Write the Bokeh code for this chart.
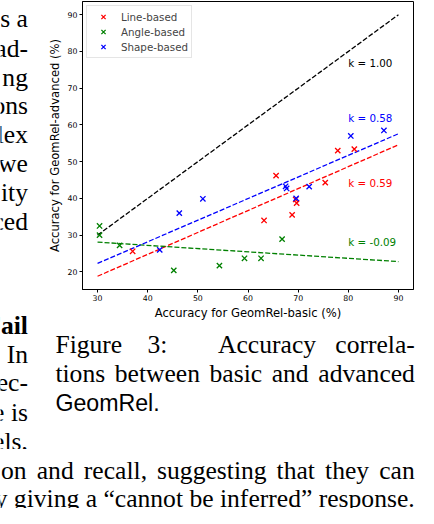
from bokeh.plotting import figure
from bokeh.models import Range1d, FixedTicker, Label
from bokeh.layouts import column, row
from bokeh.embed import file_html
from bokeh.resources import INLINE

# ---------------- data ----------------
series_names = ["Line-based", "Angle-based", "Shape-based"]

line_x = [37.0, 63.2, 65.6, 68.8, 69.7, 69.5, 75.4, 77.9, 81.2]
line_y = [25.6, 34.0, 46.2, 35.5, 38.7, 39.7, 44.3, 53.0, 53.4]

angle_x = [30.4, 30.4, 34.4, 45.2, 54.3, 59.3, 62.6, 66.8]
angle_y = [32.5, 30.0, 27.2, 20.4, 21.7, 23.7, 23.7, 28.9]

shape_x = [42.4, 46.3, 51.0, 67.5, 67.7, 69.6, 72.2, 80.5, 87.1]
shape_y = [26.0, 36.0, 39.9, 43.3, 42.7, 40.0, 43.2, 57.0, 58.5]

fit_x = [30, 90]
fit_identity = [30, 90]
fit_line = [18.8, 54.6]
fit_angle = [28.1, 22.8]
fit_shape = [22.3, 57.6]

k_texts = ["k = 1.00", "k = 0.58", "k = 0.59", "k = -0.09"]

x_ticks = [30, 40, 50, 60, 70, 80, 90]
y_ticks = [20, 30, 40, 50, 60, 70, 80, 90]

x_label = "Accuracy for GeomRel-basic (%)"
y_label = "Accuracy for GeomRel-advanced (%)"

caption_line1 = ["Figure", "3:", "Accuracy", "correla-"]
caption_line2 = ["tions", "between", "basic", "and", "advanced"]
caption_line3 = "GeomRel."
left_col_top = ["s a", "ad-", "ng", "ons", "lex", "we", "ity", "ced"]
left_col_head = "Fail"
left_col_bottom = ["In", "ec-", "e is", "els,"]
body_line1 = ["on", "and", "recall,", "suggesting", "that", "they", "can"]
body_line2 = "y giving a \u201ccannot be inferred\u201d response."

# ---------------- layout geometry ----------------
W, H = 418, 508
SX, SY = W / 434.0, H / 524.0
FS = 0.966
SPLIT_X = 40          # left text strip width
CHART_H = 322
UPPER_H = 449         # height of left strip + chart + caption
L, R, T, B = 82, 413, 1, 290   # chart frame in canvas px
X0, X1 = 27.0, 93.0
Y0, Y1 = 15.2, 93.6

RED, GREEN, BLUE = "#ff0000", "#008000", "#0000ff"

# ---------------- chart ----------------
p = figure(width=W - SPLIT_X, height=CHART_H, output_backend="svg", toolbar_location=None,
           x_range=Range1d(X0, X1), y_range=Range1d(Y0, Y1),
           min_border_left=L - SPLIT_X, min_border_right=W - R,
           min_border_top=T, min_border_bottom=CHART_H - B)
p.frame_align = False
p.background_fill_color = "white"
p.border_fill_color = "white"
p.outline_line_color = "black"
p.outline_line_width = 1
p.grid.visible = False

for ax in (p.xaxis[0], p.yaxis[0]):
    ax.axis_line_color = "black"
    ax.axis_line_width = 1
    ax.major_tick_line_color = "black"
    ax.major_tick_out = 3
    ax.major_tick_in = 0
    ax.minor_tick_out = 0
    ax.minor_tick_in = 0
    ax.major_label_text_font = "DejaVu Sans"
    ax.major_label_text_font_size = "7.8px"
    ax.major_label_text_color = "black"
    ax.axis_label_text_font = "DejaVu Sans"
    ax.axis_label_text_font_size = "11.6px"
    ax.axis_label_text_font_style = "normal"
    ax.axis_label_text_color = "black"
    ax.major_label_standoff = 2

p.xaxis[0].ticker = FixedTicker(ticks=x_ticks)
p.yaxis[0].ticker = FixedTicker(ticks=y_ticks)
p.xaxis[0].axis_label = x_label
p.yaxis[0].axis_label = y_label
p.xaxis[0].axis_label_standoff = 2
p.yaxis[0].axis_label_standoff = 3

DASH = "5 2"
p.line(fit_x, fit_identity, line_color="black", line_dash=DASH, line_width=1.3)
p.line(fit_x, fit_line, line_color=RED, line_dash=DASH, line_width=1.3)
p.line(fit_x, fit_angle, line_color=GREEN, line_dash=DASH, line_width=1.3)
p.line(fit_x, fit_shape, line_color=BLUE, line_dash=DASH, line_width=1.3)

p.scatter(line_x, line_y, marker="x", size=7.5, line_color=RED, line_width=1.3,
          legend_label=series_names[0])
p.scatter(angle_x, angle_y, marker="x", size=7.5, line_color=GREEN, line_width=1.3,
          legend_label=series_names[1])
p.scatter(shape_x, shape_y, marker="x", size=7.5, line_color=BLUE, line_width=1.3,
          legend_label=series_names[2])

lg = p.legend[0]
lg.location = "top_left"
lg.margin = 4
lg.padding = 3
lg.spacing = 0
lg.glyph_width = 26
lg.glyph_height = 15
lg.label_height = 15
lg.label_standoff = 5
lg.label_text_font = "DejaVu Sans"
lg.label_text_font_size = "10.3px"
lg.label_text_baseline = "middle"
lg.border_line_color = "#cccccc"
lg.border_line_width = 1
lg.background_fill_alpha = 0.8

k_pos = [(80, 76.9, "black"), (80, 62.0, BLUE), (80, 44.1, RED), (80, 28.1, GREEN)]
for txt, (kx, ky, col) in zip(k_texts, k_pos):
    p.add_layout(Label(x=kx, y=ky, text=txt, text_color=col, text_font="DejaVu Sans",
                       text_font_size="10.3px", text_baseline="middle"))

# ---------------- text panels (frame = whole panel, y downwards) ----------------
def text_panel(w, h):
    f = figure(width=w, height=h, output_backend="svg", toolbar_location=None,
               x_range=Range1d(0, w), y_range=Range1d(h, 0),
               x_axis_location=None, y_axis_location=None, title=None,
               min_border=0, min_border_left=0, min_border_right=0,
               min_border_top=0, min_border_bottom=0)
    f.frame_align = False
    f.grid.visible = False
    f.outline_line_color = None
    f.background_fill_color = "white"
    f.border_fill_color = "white"
    return f

left_fig = text_panel(SPLIT_X, UPPER_H)                 # canvas x 0..40, y 0..449
cap_fig = text_panel(W - SPLIT_X, UPPER_H - CHART_H)   # canvas x 40..418, y 322..449
bot_fig = text_panel(W, H - UPPER_H)                   # canvas x 0..418, y 449..508

def put(fig, ox, oy, text, rx, ry, size, font="Liberation Serif", align="left", style="normal"):
    cx, cy = rx * SX - ox, ry * SY - oy
    fig.add_layout(Label(x=cx, y=cy, text=text, text_font=font,
                         text_font_size=f"{size * FS:.2f}px", text_align=align,
                         text_baseline="alphabetic", text_font_style=style,
                         text_color="black"))

TIMES = {' ': 250, 'a': 444, 'b': 500, 'c': 444, 'd': 500, 'e': 444, 'f': 333, 'g': 500,
         'h': 500, 'i': 278, 'j': 278, 'k': 500, 'l': 278, 'm': 778, 'n': 500, 'o': 500,
         'p': 500, 'q': 500, 'r': 333, 's': 389, 't': 278, 'u': 500, 'v': 500, 'w': 722,
         'x': 500, 'y': 500, 'z': 444, ',': 250, '.': 250, ':': 278, '-': 333, '3': 500,
         'F': 556, 'A': 722, 'I': 333}

def tw(s, size):
    return sum(TIMES.get(c, 500) for c in s) / 1000.0 * size

def justified(fig, ox, oy, words, x0, x1, base, size, weights=None):
    n = len(words)
    weights = weights or [1.0] * (n - 1)
    extra = (x1 - x0) - sum(tw(w, size) for w in words)
    x = x0
    for i, w in enumerate(words):
        put(fig, ox, oy, w, x, base, size)
        if i < n - 1:
            x += tw(w, size) + extra * weights[i] / sum(weights)

BODY = 26.5
left_top_base = [19, 49, 79, 108.5, 138.5, 168, 198, 228]
for t, b in zip(left_col_top, left_top_base):
    put(left_fig, 0, 0, t, 28.5, b, BODY, align="right")

put(left_fig, 0, 0, left_col_head, 28.5, 335, BODY, align="right", style="bold")
left_bot_base = [365, 394.5, 425, 455]
for t, b in zip(left_col_bottom, left_bot_base):
    put(left_fig, 0, 0, t, 28.5, b, BODY, align="right")

justified(cap_fig, SPLIT_X, CHART_H, caption_line1, 57, 430, 355, BODY, [1.3, 2.6, 1.0])
justified(cap_fig, SPLIT_X, CHART_H, caption_line2, 57, 430, 385, BODY)
put(cap_fig, SPLIT_X, CHART_H, caption_line3, 57, 415, 24, font="Liberation Sans")

justified(bot_fig, 0, UPPER_H, body_line1, 0.5, 430, 485, BODY)
put(bot_fig, 0, UPPER_H, body_line2, 430, 513.5, BODY, align="right")

layout = column(row(left_fig, column(p, cap_fig, spacing=0), spacing=0), bot_fig, spacing=0)
open("out.html", "w").write(file_html(layout, INLINE))
